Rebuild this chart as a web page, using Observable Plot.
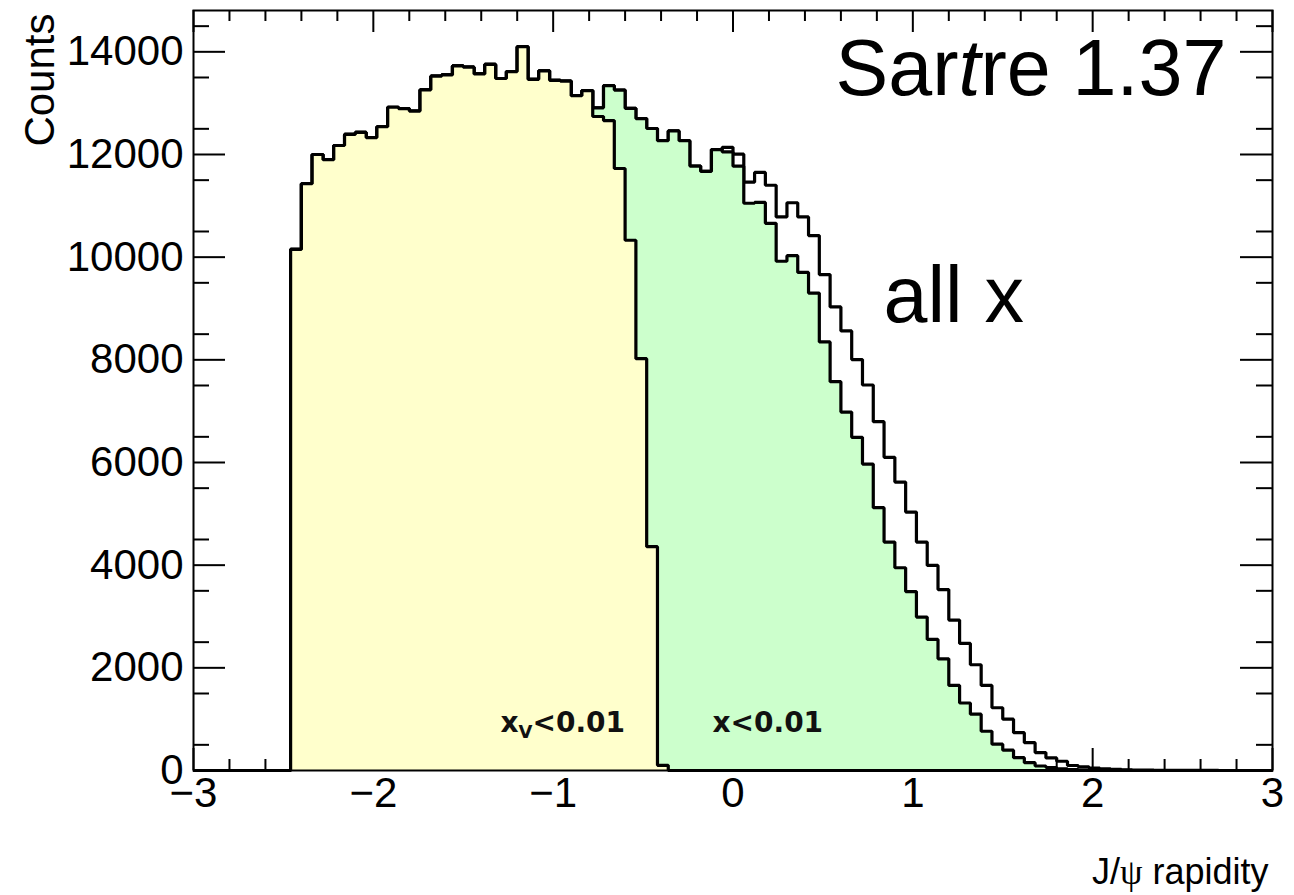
<!DOCTYPE html>
<html>
<head>
<meta charset="utf-8">
<script src="https://cdn.jsdelivr.net/npm/d3@7"></script>
<script src="https://cdn.jsdelivr.net/npm/@observablehq/plot@0.6"></script>
<style>
  html, body { margin: 0; padding: 0; background: #fff; }
  #chart svg { display: block; }
</style>
</head>
<body>
<div id="chart"></div>
<script>
// Histogram binning: 100 bins from -3 to 3
const binLow = -3;
const binWidth = 0.06;

// "all x" counts per bin
const allX = [
  0, 0, 0, 0, 0, 0, 0, 0, 0,
  10150, 11430, 12000, 11900, 12175, 12390, 12430, 12330, 12540, 12920,
  12895, 12845, 13260, 13525, 13550, 13725, 13700, 13570, 13755, 13480,
  13615, 14100, 13465, 13630, 13445, 13430, 13145, 13245, 12910, 13340,
  13255, 12900, 12700, 12506, 12270, 12460, 12270, 11775, 11670, 12095,
  12140, 12006, 11460, 11650, 11401, 10784, 11060, 10784, 10420, 9660,
  9030, 8563, 8005, 7510, 6795, 6100, 5619, 5035, 4450, 3995,
  3525, 2930, 2475, 2060, 1657, 1222, 1000, 737, 542, 350,
  245, 180, 97, 70, 45, 30, 20, 14, 10, 7,
  5, 3, 2, 1, 1, 1, 0, 0, 0, 0, 0
];

// "x<0.01" counts per bin
const xLow = [
  0, 0, 0, 0, 0, 0, 0, 0, 0,
  10150, 11430, 12000, 11900, 12175, 12390, 12430, 12330, 12540, 12920,
  12895, 12845, 13260, 13525, 13550, 13725, 13700, 13570, 13755, 13480,
  13615, 14100, 13465, 13630, 13445, 13430, 13145, 13245, 12910, 13340,
  13255, 12900, 12700, 12506, 12270, 12460, 12270, 11775, 11670, 12095,
  12050, 11772, 11050, 11066, 10660, 9920, 10028, 9702, 9300, 8349,
  7575, 6983, 6490, 5970, 5120, 4450, 3950, 3485, 2988, 2553,
  2176, 1657, 1315, 1098, 765, 513, 396, 250, 152, 88,
  58, 30, 18, 10, 6, 3, 2, 1, 0, 0,
  0, 0, 0, 0, 0, 0, 0, 0, 0, 0, 0
];

// "x_V<0.01" counts per bin
const xVLow = [
  0, 0, 0, 0, 0, 0, 0, 0, 0,
  10150, 11430, 12000, 11900, 12175, 12390, 12430, 12330, 12540, 12920,
  12895, 12845, 13260, 13525, 13550, 13725, 13700, 13570, 13755, 13480,
  13615, 14100, 13465, 13630, 13445, 13430, 13145, 13245, 12740, 12660,
  11727, 10329, 8022, 4360, 100, 0, 0, 0, 0, 0,
  0, 0, 0, 0, 0, 0, 0, 0, 0, 0,
  0, 0, 0, 0, 0, 0, 0, 0, 0, 0,
  0, 0, 0, 0, 0, 0, 0, 0, 0, 0,
  0, 0, 0, 0, 0, 0, 0, 0, 0, 0,
  0, 0, 0, 0, 0, 0, 0, 0, 0, 0, 0
];

const xTicks = [-3, -2, -1, 0, 1, 2, 3];
const yTicks = [0, 2000, 4000, 6000, 8000, 10000, 12000, 14000];
const xMinorTicks = d3.range(0, 31).map(i => -3 + i * 0.2).filter(v => Math.abs(v - Math.round(v)) > 1e-6);
const yMinorTicks = d3.range(500, 15000, 1000);
const yMax = 14805;

// layout / style
const W = 1294, H = 895;
const mL = 193, mR = 22, mT = 10, mB = 125;
const pw = W - mL - mR, ph = H - mT - mB;
const yellowFill = "#ffffcc";
const greenFill = "#ccffcc";

function steps(values) {
  const pts = values.map((v, i) => ({x: binLow + i * binWidth, y: v}));
  pts.push({x: binLow + values.length * binWidth, y: values[values.length - 1]});
  return pts;
}
const sAll = steps(allX), sX = steps(xLow), sXV = steps(xVLow);

const lineStyle = {x: "x", y: "y", curve: "step-after", stroke: "black", strokeWidth: 3.2, strokeLinejoin: "miter", strokeLinecap: "butt"};
const fmtX = d => d < 0 ? "\u2212" + Math.abs(d) : String(d);

const chart = Plot.plot({
  width: W, height: H,
  marginLeft: mL, marginRight: mR, marginTop: mT, marginBottom: mB,
  x: {domain: [-3, 3]},
  y: {domain: [0, yMax]},
  style: {fontFamily: "'Liberation Sans', Arial, Helvetica, sans-serif", background: "white", color: "black"},
  marks: [
    // inward ticks on all four sides
    Plot.tickY(yTicks, {y: d => d, insetRight: pw - 32, stroke: "black", strokeWidth: 2}),
    Plot.tickY(yTicks, {y: d => d, insetLeft: pw - 32, stroke: "black", strokeWidth: 2}),
    Plot.tickY(yMinorTicks, {y: d => d, insetRight: pw - 16, stroke: "black", strokeWidth: 2}),
    Plot.tickY(yMinorTicks, {y: d => d, insetLeft: pw - 16, stroke: "black", strokeWidth: 2}),
    Plot.tickX(xTicks, {x: d => d, insetTop: ph - 22, stroke: "black", strokeWidth: 2}),
    Plot.tickX(xTicks, {x: d => d, insetBottom: ph - 22, stroke: "black", strokeWidth: 2}),
    Plot.tickX(xMinorTicks, {x: d => d, insetTop: ph - 11, stroke: "black", strokeWidth: 2}),
    Plot.tickX(xMinorTicks, {x: d => d, insetBottom: ph - 11, stroke: "black", strokeWidth: 2}),
    // histograms
    Plot.lineY(sAll, lineStyle),
    Plot.areaY(sX, {x: "x", y: "y", curve: "step-after", fill: greenFill}),
    Plot.lineY(sX, lineStyle),
    Plot.areaY(sXV, {x: "x", y: "y", curve: "step-after", fill: yellowFill}),
    Plot.lineY(sXV, lineStyle),
    Plot.frame({stroke: "black", strokeWidth: 2}),
    // axes
    Plot.axisX({ticks: xTicks, tickSize: 0, tickPadding: 7, fontSize: 42, tickFormat: fmtX, label: null}),
    Plot.axisY({ticks: yTicks, tickSize: 0, tickPadding: 10, fontSize: 42, tickFormat: d => String(d), label: null}),
    // axis titles
    Plot.text(["Counts"], {frameAnchor: "top-left", text: d => d, rotate: -90, textAnchor: "end", lineAnchor: "bottom", dx: 53 - mL, dy: 3, fontSize: 42, fill: "black"}),
    Plot.text(["J/\u03c8 rapidity"], {frameAnchor: "bottom-right", text: d => d, textAnchor: "end", lineAnchor: "bottom", dx: -4, dy: 113, fontSize: 36, fill: "black"}),
    // annotations
    Plot.text(["Sartre 1.37"], {x: () => 0.57, y: () => 13155, text: d => d, textAnchor: "start", lineAnchor: "bottom", fontSize: 79, fill: "black"}),
    Plot.text(["all x"], {x: () => 0.837, y: () => 8731, text: d => d, textAnchor: "start", lineAnchor: "bottom", fontSize: 79, fill: "black"}),
    Plot.text(["xV<0.01"], {x: () => -1.293, y: () => 741, text: d => d, textAnchor: "start", lineAnchor: "bottom", fontSize: 28, fontWeight: "bold", fontFamily: "'DejaVu Sans', sans-serif", fill: "#111"}),
    Plot.text(["x<0.01"], {x: () => -0.114, y: () => 741, text: d => d, textAnchor: "start", lineAnchor: "bottom", fontSize: 28, fontWeight: "bold", fontFamily: "'DejaVu Sans', sans-serif", fill: "#111"})
  ]
});

document.getElementById("chart").appendChild(chart);

// rich-text touches (italic t, subscript V, Greek psi in serif)
d3.select(chart).selectAll("text").each(function() {
  const t = this.textContent;
  const sel = d3.select(this);
  if (t === "Sartre 1.37") {
    sel.text(null);
    sel.append("tspan").text("Sar");
    sel.append("tspan").attr("font-style", "italic").text("t");
    sel.append("tspan").text("re 1.37");
  } else if (t === "xV<0.01") {
    sel.text(null);
    sel.append("tspan").text("x");
    sel.append("tspan").attr("font-size", 18).attr("dy", 6).text("V");
    sel.append("tspan").attr("dy", -6).text("<0.01");
  } else if (t === "J/\u03c8 rapidity") {
    sel.text(null);
    sel.append("tspan").text("J/");
    sel.append("tspan").attr("font-family", "'Liberation Serif', 'DejaVu Serif', serif").text("\u03c8");
    sel.append("tspan").text(" rapidity");
  }
});
</script>
</body>
</html>
